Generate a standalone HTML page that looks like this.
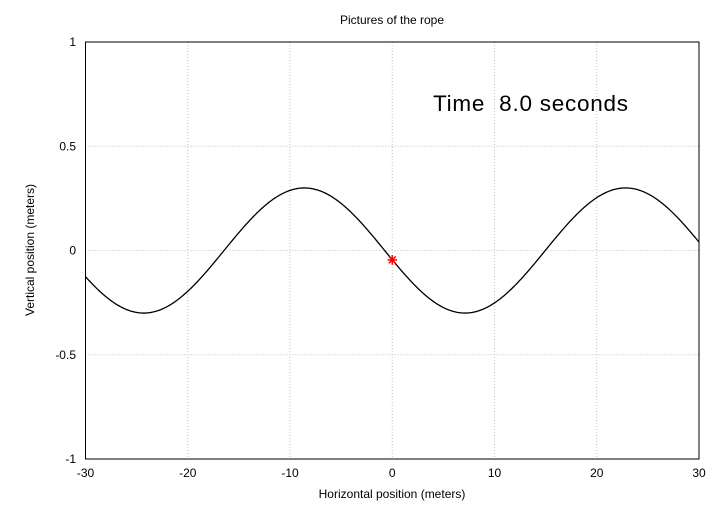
<!DOCTYPE html>
<html><head><meta charset="utf-8"><style>
body{margin:0;background:#fff}
text{font-family:"Liberation Sans",sans-serif;font-size:12px;fill:#000}
</style></head><body>
<svg id="s" width="720" height="504" xmlns="http://www.w3.org/2000/svg">
<rect width="720" height="504" fill="#fff"/>
<g id="grid" stroke="#c0c0c0" stroke-width="1" stroke-dasharray="1,2"></g>
<rect x="85.5" y="42" width="613.5" height="417" fill="none" stroke="#000" stroke-width="1"/>
<g id="lab"></g>
<path id="curve" fill="none" stroke="#000" stroke-width="1.3"/>
<g stroke="#f00" stroke-width="1.5">
<line x1="387.5" y1="259.9" x2="397" y2="259.9"/>
<line x1="392.25" y1="255" x2="392.25" y2="264.8"/>
<line x1="388.8" y1="256.4" x2="395.7" y2="263.4"/>
<line x1="388.8" y1="263.4" x2="395.7" y2="256.4"/>
</g>
<text x="392" y="24" text-anchor="middle">Pictures of the rope</text>
<text x="392" y="498" text-anchor="middle">Horizontal position (meters)</text>
<text transform="translate(34,250) rotate(-90)" text-anchor="middle">Vertical position (meters)</text>
<text x="433" y="111" style="font-size:22.5px" textLength="195">Time &#160;8.0 seconds</text>
</svg>
<script>
var X=x=>85.5+(x+30)/60*613.5, Y=y=>250.5-y*208.5;
var g=document.getElementById('grid'),l=document.getElementById('lab');
var gl='',ll='';
for(var x=-30;x<=30;x+=10){var p=X(x);if(x>-30&&x<30)gl+=`<line x1="${p}" y1="42" x2="${p}" y2="459"/>`;ll+=`<text x="${p}" y="477" text-anchor="middle">${x}</text>`;}
[1,0.5,0,-0.5,-1].forEach(y=>{var p=Y(y);if(Math.abs(y)<1)gl+=`<line x1="85.5" y1="${p}" x2="699" y2="${p}"/>`;ll+=`<text x="76" y="${p+4}" text-anchor="end">${y}</text>`;});
g.innerHTML=gl;l.innerHTML=ll;
var d='';for(var i=0;i<=600;i++){var x=-30+i*0.1,y=0.3*Math.sin(0.2*x+3.29);d+=(i?'L':'M')+X(x).toFixed(2)+','+Y(y).toFixed(2);}
document.getElementById('curve').setAttribute('d',d);
</script>
</body></html>
